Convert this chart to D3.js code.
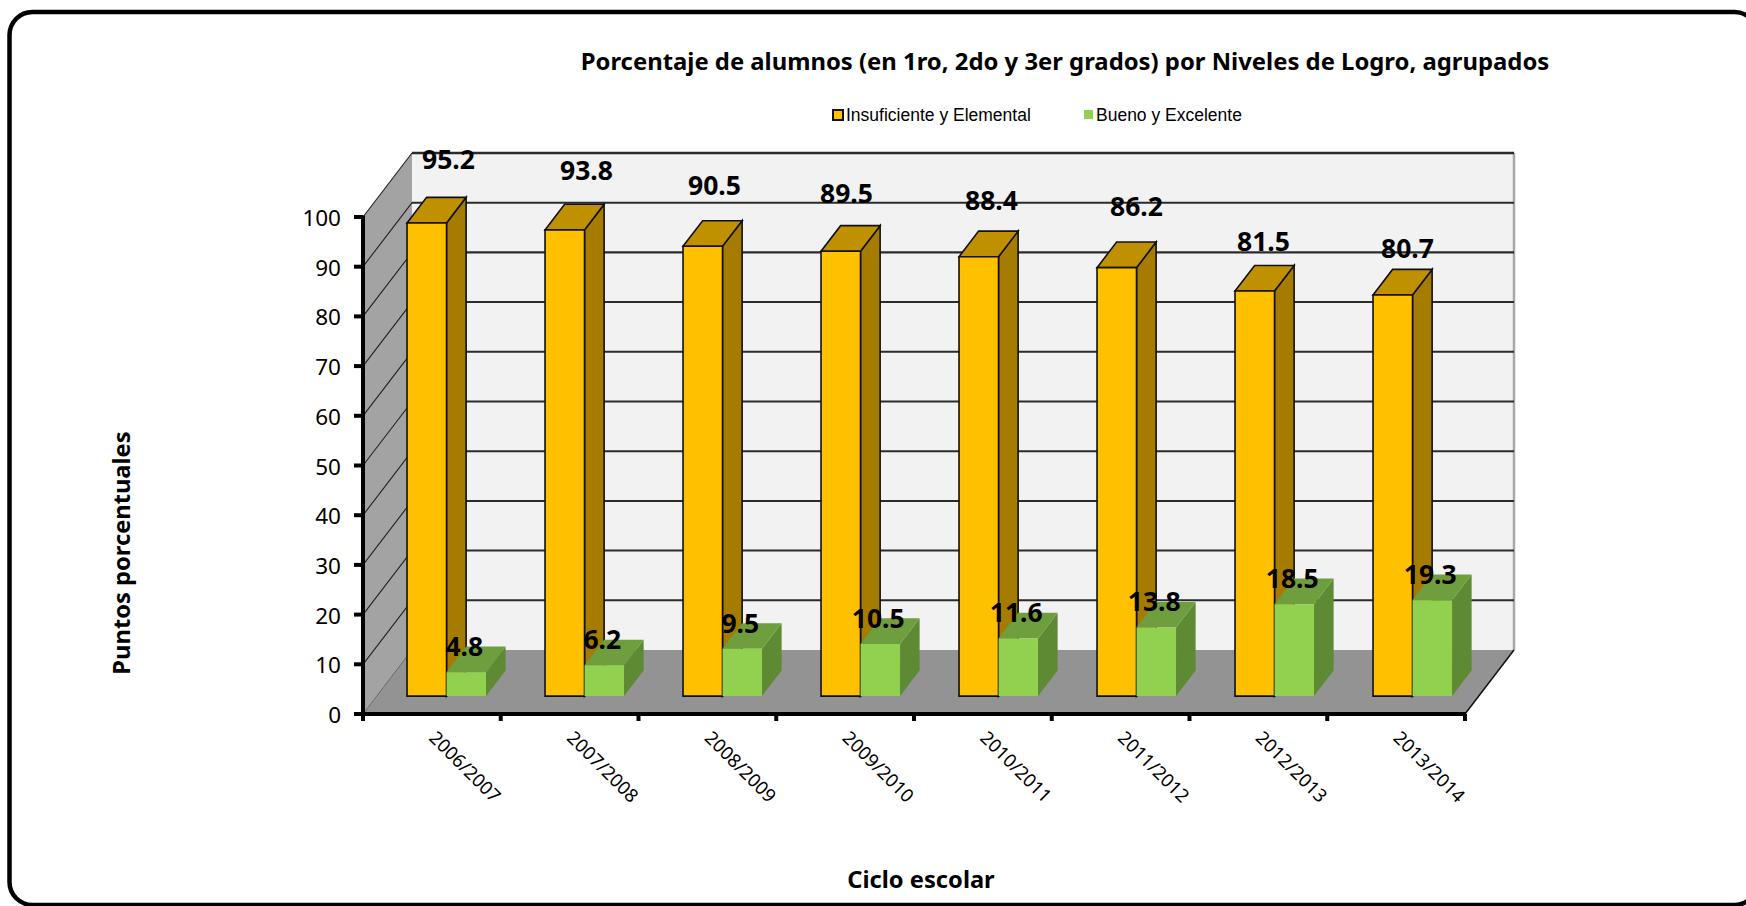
<!DOCTYPE html>
<html><head><meta charset="utf-8">
<style>html,body{margin:0;padding:0;background:#fff;overflow:hidden}svg{display:block}text{fill:#000}</style>
<script src="https://cdn.jsdelivr.net/npm/d3@7"></script></head>
<body><svg id="c" width="1746" height="906"></svg>
<script>
const categories = ["2006/2007","2007/2008","2008/2009","2009/2010","2010/2011","2011/2012","2012/2013","2013/2014"];
const insuficiente = [95.2,93.8,90.5,89.5,88.4,86.2,81.5,80.7];
const bueno = [4.8,6.2,9.5,10.5,11.6,13.8,18.5,19.3];
const yTicks = [0,10,20,30,40,50,60,70,80,90,100];
const seriesNames = ["Insuficiente y Elemental","Bueno y Excelente"];
const titleText = "Porcentaje de alumnos (en 1ro, 2do y 3er grados) por Niveles de Logro, agrupados";

// layout (hand-placed label nudges of the original, in px)
const topLabelLift = [54,50,51,48,47,52,40,37];
const topLabelShift = [2,2,-8,-14,-7,0,-11,-5];
const DX = 49, DY = 64, T0 = 0.28, T1 = 0.68;
const x = d3.scaleBand().domain(categories).range([363,1465]);
const xBars = d3.scaleBand().domain(categories).range([363,1467]);
const y = d3.scaleLinear().domain([0,100]).range([714,217]);
const BW = 39.5;
const svg = d3.select("#c");
const P = (px,v,t)=>[px+DX*t, y(v)-DY*t];
const poly = (pts,fill,stroke,sw)=>svg.append("polygon").attr("points",pts.map(p=>p.join(",")).join(" ")).attr("fill",fill).attr("stroke",stroke||"none").attr("stroke-width",sw||0).attr("stroke-linejoin","miter");
const line = (a,b,c,w)=>svg.append("line").attr("x1",a[0]).attr("y1",a[1]).attr("x2",b[0]).attr("y2",b[1]).attr("stroke",c).attr("stroke-width",w);

svg.append("rect").attr("x",9.5).attr("y",12).attr("width",1748).attr("height",893).attr("rx",23).attr("fill","#fff").attr("stroke","#000").attr("stroke-width",4.5);

const x0=363,x1=1465;
poly([P(x0,0,1),P(x0,100,1),P(x1,100,1),P(x1,0,1)],"#f2f2f2");
poly([P(x0,0,0),P(x0,100,0),P(x0,100,1),P(x0,0,1)],"#a3a3a3");
poly([P(x0,0,0),P(x1,0,0),P(x1,0,1),P(x0,0,1)],"#939393");
line(P(x1,0,1),P(x1,100,1),"#a8a8a8",2.5);
yTicks.filter(d=>d>0).forEach(d=>{
  line(P(x0,d,1),P(x1,d,1),"#2b2b2b",d===80||d===100?2.4:2);
  line(P(x0,d,0),P(x0,d,1),"#222",1.1);
});
line(P(x0,0,0),P(x0,0,1),"#666",1);
line(P(x1,0,0),P(x1,0,1),"#111",1.5);

function bar(px,v,cf,ct,cs,stroke){
  const a=px,b=px+BW;
  const sw=stroke?1.6:0, st=stroke?"#111":null;
  poly([P(b,0,T0),P(b,0,T1),P(b,v,T1),P(b,v,T0)],cs,st,sw);
  poly([P(a,v,T0),P(b,v,T0),P(b,v,T1),P(a,v,T1)],ct,st,sw);
  poly([P(a,0,T0),P(b,0,T0),P(b,v,T0),P(a,v,T0)],cf,st,sw);
}
const splitOf = c => xBars(c)+xBars.bandwidth()/2+0.8;
categories.forEach((c,i)=>{
  const split = splitOf(c);
  bar(split-BW,insuficiente[i],"#ffc000","#bf9000","#a67c00",true);
  bar(split,bueno[i],"#92d050","#6f9e3e","#5f8a34",false);
});

// axes
line([x0,y(100)-1.5],[x0,y(0)+2],"#000",4);
line([x0-2,y(0)],[x1+1,y(0)],"#000",4);
yTicks.forEach(d=>line([x0-9,y(d)],[x0,y(d)],"#000",4));
categories.forEach(c=>line([x(c),y(0)],[x(c),y(0)+7],"#000",4));
line([x1,y(0)],[x1,y(0)+7],"#000",4);

const NS="'Noto Sans'";
yTicks.forEach(d=>svg.append("text").attr("x",341).attr("y",y(d)+9).attr("text-anchor","end").attr("font-family",NS).attr("font-size",22.5).text(d));
categories.forEach(c=>svg.append("text").attr("transform",`translate(${x(c)+65},${y(0)+25}) rotate(45)`).attr("font-family",NS).attr("font-size",18.5).text(c));

categories.forEach((c,i)=>{
  const sx = P(splitOf(c),0,T0)[0];
  svg.append("text").attr("x",sx+topLabelShift[i]).attr("y",P(0,insuficiente[i],T0)[1]-topLabelLift[i]).attr("text-anchor","middle").attr("font-family",NS).attr("font-weight","bold").attr("font-size",26.5).text(insuficiente[i].toFixed(1));
  svg.append("text").attr("x",sx+BW/2-2).attr("y",P(0,bueno[i],T0)[1]-16).attr("text-anchor","middle").attr("font-family",NS).attr("font-weight","bold").attr("font-size",26.5).text(bueno[i].toFixed(1));
});

svg.append("text").attr("x",1065).attr("y",70).attr("text-anchor","middle").attr("font-family",NS).attr("font-weight","bold").attr("font-size",23.85).text(titleText);
svg.append("text").attr("x",921).attr("y",888).attr("text-anchor","middle").attr("font-family",NS).attr("font-weight","bold").attr("font-size",23.7).text("Ciclo escolar");
svg.append("text").attr("transform","translate(130,553) rotate(-90)").attr("text-anchor","middle").attr("font-family",NS).attr("font-weight","bold").attr("font-size",23.7).text("Puntos porcentuales");

svg.append("rect").attr("x",833).attr("y",110).attr("width",10).attr("height",10).attr("fill","#ffc000").attr("stroke","#111").attr("stroke-width",2);
svg.append("rect").attr("x",1084).attr("y",110).attr("width",9).attr("height",9).attr("fill","#92d050");
const LF="'Liberation Sans'";
svg.append("text").attr("x",846).attr("y",121).attr("font-family",LF).attr("font-size",17.5).text(seriesNames[0]);
svg.append("text").attr("x",1096).attr("y",121).attr("font-family",LF).attr("font-size",17.5).text(seriesNames[1]);
</script></body></html>
